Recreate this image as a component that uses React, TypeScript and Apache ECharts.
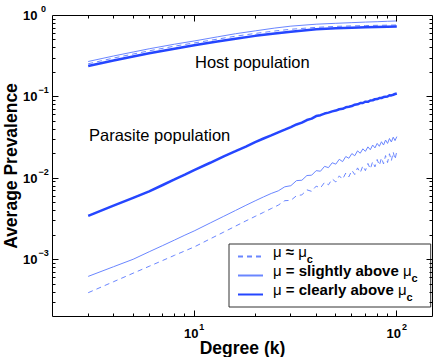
import React, { useEffect, useRef } from 'react';
import * as echarts from 'echarts';

// ---- Data ----
const N_CRIT = 'μ ≈ μc';
const N_SLIGHT = 'μ = slightly above μc';
const N_CLEAR = 'μ = clearly above μc';

const K = [3, 4, 5, 6, 7, 8, 9, 10, 12, 14, 16, 18, 20, 22, 24, 26, 28, 30,
  32, 34, 36, 38, 40, 42, 44, 46, 48, 50, 52, 54, 56, 58, 60, 62, 64, 66, 68, 70,
  72, 74, 76, 78, 80, 82, 84, 86, 88, 90, 92, 94, 96, 98, 100];

const PARASITE_CLEAR = [0.00345, 0.0046, 0.00575, 0.0069, 0.00826, 0.00966, 0.0111, 0.0126,
  0.0155, 0.0186, 0.0215, 0.0245, 0.0278, 0.0308, 0.0337, 0.0367, 0.0396, 0.0426,
  0.0458, 0.0482, 0.0519, 0.0541, 0.0581, 0.0596, 0.0624, 0.0641, 0.0663, 0.0679,
  0.0705, 0.0714, 0.0745, 0.0757, 0.0772, 0.0801, 0.0809, 0.0838, 0.0841, 0.0872,
  0.087, 0.0903, 0.0909, 0.0935, 0.094, 0.0968, 0.0969, 0.0995, 0.1003, 0.101,
  0.1046, 0.1041, 0.1062, 0.1085, 0.1102];

const PARASITE_SLIGHT = [0.000622, 0.000818, 0.00101, 0.00125, 0.00149, 0.00174, 0.002, 0.00225,
  0.00282, 0.00341, 0.00402, 0.00465, 0.00528, 0.0059, 0.0065, 0.007, 0.00785, 0.0081,
  0.00935, 0.00945, 0.0108, 0.0109, 0.0124, 0.0122, 0.014, 0.0135, 0.0155, 0.0149,
  0.0171, 0.016, 0.0185, 0.0176, 0.0201, 0.0189, 0.0217, 0.0203, 0.023, 0.0214,
  0.0243, 0.0224, 0.0256, 0.0236, 0.0268, 0.0247, 0.0281, 0.0256, 0.0295, 0.0268,
  0.0308, 0.0279, 0.032, 0.029, 0.0325];

const PARASITE_CRIT = [0.000392, 0.000535, 0.000681, 0.000828, 0.000977, 0.00113, 0.00128, 0.00143,
  0.0018, 0.00218, 0.00258, 0.00299, 0.0034, 0.00381, 0.00424, 0.00467, 0.0053, 0.00535,
  0.0061, 0.00625, 0.0072, 0.0069, 0.008, 0.0076, 0.0089, 0.0083, 0.0098, 0.009,
  0.0107, 0.0097, 0.0116, 0.0104, 0.0125, 0.0111, 0.0134, 0.0117, 0.0142, 0.0124,
  0.0152, 0.013, 0.016, 0.0138, 0.017, 0.0144, 0.0178, 0.015, 0.019, 0.0156,
  0.02, 0.0164, 0.021, 0.017, 0.0215];

const HOST_K = [3, 4, 5, 6, 8, 10, 13, 16, 20, 25, 30, 40, 50, 60, 70, 80, 90, 100];
const HOST_CLEAR = [0.239, 0.28, 0.313, 0.343, 0.39, 0.43, 0.48, 0.519, 0.562, 0.601, 0.63,
  0.678, 0.697, 0.708, 0.716, 0.723, 0.728, 0.731];
const HOST_SLIGHT = [0.272, 0.318, 0.356, 0.39, 0.444, 0.486, 0.546, 0.597, 0.647, 0.701, 0.74,
  0.782, 0.802, 0.817, 0.83, 0.839, 0.849, 0.857];
const HOST_CRIT = [0.255, 0.3, 0.336, 0.368, 0.42, 0.46, 0.512, 0.557, 0.602, 0.645, 0.677,
  0.715, 0.735, 0.745, 0.752, 0.757, 0.761, 0.765];

const X_MIN = 2;
const X_MAX = 150;
const Y_MIN = 0.0002;
const Y_MAX = 1;
const X_MAJOR = [10, 100];
const X_MINOR = [3, 4, 5, 6, 7, 8, 9, 20, 30, 40, 50, 60, 70, 80, 90];
const Y_MAJOR = [0.001, 0.01, 0.1];
const Y_MINOR = [0.0003, 0.0004, 0.0005, 0.0006, 0.0007, 0.0008, 0.0009,
  0.002, 0.003, 0.004, 0.005, 0.006, 0.007, 0.008, 0.009,
  0.02, 0.03, 0.04, 0.05, 0.06, 0.07, 0.08, 0.09,
  0.2, 0.3, 0.4, 0.5, 0.6, 0.7, 0.8, 0.9];

const FONT = 'Liberation Sans, Arial, Helvetica, sans-serif';
const C_CLEAR = '#2546ff';
const C_LIGHT = '#6a86ff';

function lineSeries(name: string, xs: number[], ys: number[], color: string, width: number, type: any) {
  return {
    type: 'line',
    name,
    data: xs.map((k, i) => [k, ys[i]]),
    symbol: 'none',
    showSymbol: false,
    silent: true,
    lineStyle: { color, width, type },
    itemStyle: { color },
    z: 3,
  };
}

const crisp = (v: number) => Math.floor(v) + 0.5;

function tickSeries(axis: 'x' | 'y', values: number[], len: number) {
  return {
    type: 'custom',
    silent: true,
    z: 5,
    clip: false,
    data: values.map((v) => (axis === 'x' ? [v, Y_MIN] : [X_MIN, v])),
    renderItem: (params: any, api: any) => {
      const v = api.value(axis === 'x' ? 0 : 1);
      const style = { stroke: '#000', lineWidth: 1 };
      if (axis === 'x') {
        const b = api.coord([v, Y_MIN]);
        const t = api.coord([v, Y_MAX]);
        const x = crisp(b[0]);
        return {
          type: 'group',
          children: [
            { type: 'line', shape: { x1: x, y1: b[1], x2: x, y2: b[1] - len }, style },
            { type: 'line', shape: { x1: x, y1: t[1], x2: x, y2: t[1] + len }, style },
          ],
        };
      }
      const l = api.coord([X_MIN, v]);
      const r = api.coord([X_MAX, v]);
      const y = crisp(l[1]);
      return {
        type: 'group',
        children: [
          { type: 'line', shape: { x1: l[0], y1: y, x2: l[0] + len, y2: y }, style },
          { type: 'line', shape: { x1: r[0], y1: y, x2: r[0] - len, y2: y }, style },
        ],
      };
    },
  };
}

function expOf(v: number): number | null {
  const e = Math.log10(v);
  if (Math.abs(e - Math.round(e)) > 1e-6) return null;
  return Math.round(e);
}

export default function App() {
  const ref = useRef<HTMLDivElement>(null);
  useEffect(() => {
    if (!ref.current) return;
    const chart = echarts.init(ref.current, null, { renderer: 'svg' });
    const labelRichX = {
      b: { fontSize: 13, fontWeight: 'bold', fontFamily: FONT, color: '#000', lineHeight: 17 },
      s: { fontSize: 9, fontWeight: 'bold', fontFamily: FONT, color: '#000', lineHeight: 17, padding: [0, 0, 13, 1] },
    };
    const labelRichY = {
      b: { fontSize: 13, fontWeight: 'bold', fontFamily: FONT, color: '#000', lineHeight: 17 },
      s: { fontSize: 9, fontWeight: 'bold', fontFamily: FONT, color: '#000', lineHeight: 17, padding: [0, 0, 13, 1], width: 10, align: 'left' },
    };
    const nameStyle = { fontSize: 17.5, fontWeight: 'bold', fontFamily: FONT, color: '#000' };
    const option: any = {
      animation: false,
      grid: {
        left: 52.5, right: 3.5, top: 15.5, bottom: 40.5,
        outerBoundsMode: 'none',
        containLabel: false,
        show: true, borderColor: '#000', borderWidth: 1, backgroundColor: 'transparent',
      },
      xAxis: {
        type: 'log', logBase: 10, min: X_MIN, max: X_MAX,
        axisLine: { show: false }, axisTick: { show: false }, splitLine: { show: false },
        axisLabel: {
          margin: 8,
          formatter: (v: number) => {
            const e = expOf(v);
            return e === null ? '' : `{b|10}{s|${e}}`;
          },
          rich: labelRichX,
        },
        name: 'Degree (k)', nameLocation: 'middle', nameGap: 22, nameMoveOverlap: false,
        nameTextStyle: nameStyle,
      },
      yAxis: {
        type: 'log', logBase: 10, min: Y_MIN, max: Y_MAX,
        axisLine: { show: false }, axisTick: { show: false }, splitLine: { show: false },
        axisLabel: {
          margin: 4,
          formatter: (v: number) => {
            const e = expOf(v);
            if (e === null) return '';
            const s = e < 0 ? '\u2212' + Math.abs(e) : String(e);
            return `{b|10}{s|${s}}`;
          },
          rich: labelRichY,
        },
        name: 'Average Prevalence', nameLocation: 'middle', nameGap: 33, nameMoveOverlap: false,
        nameTextStyle: nameStyle,
      },
      legend: {
        data: [N_CRIT, N_SLIGHT, N_CLEAR],
        orient: 'vertical',
        left: 229, top: 244,
        itemWidth: 25, itemHeight: 14, itemGap: -6,
        padding: [0, 13, 0, 8],
        borderColor: '#333', borderWidth: 1, backgroundColor: '#fff',
        selectedMode: false,
        itemStyle: { opacity: 0 },
        formatter: (name: string) => {
          const mid = name.slice(1, -2);
          return `{g0|μ}{m|${mid}}{g|μ}{c|c}`;
        },
        textStyle: {
          color: '#000',
          rich: {
            g0: { fontSize: 15, fontFamily: FONT, color: '#000', lineHeight: 17, padding: [0, 0, 10, 5] },
            g: { fontSize: 15, fontFamily: FONT, color: '#000', lineHeight: 17, padding: [0, 0, 10, 0] },
            m: { fontSize: 15, fontWeight: 'bold', fontFamily: FONT, color: '#000', lineHeight: 17, padding: [0, 0, 10, 0] },
            c: { fontSize: 11, fontWeight: 'bold', fontFamily: FONT, color: '#000', lineHeight: 17, padding: [4, 0, 0, 0] },
          },
        },
      },
      graphic: [
        { type: 'text', x: 195, y: 62, style: { text: 'Host population', fontSize: 16.5, fontFamily: FONT, fill: '#000', verticalAlign: 'middle', align: 'left' } },
        { type: 'text', x: 89, y: 135, style: { text: 'Parasite population', fontSize: 16.5, fontFamily: FONT, fill: '#000', verticalAlign: 'middle', align: 'left' } },
      ],
      series: [
        lineSeries(N_CRIT, K, PARASITE_CRIT, C_LIGHT, 1, [5, 4]),
        lineSeries(N_SLIGHT, K, PARASITE_SLIGHT, C_LIGHT, 1, 'solid'),
        lineSeries(N_CLEAR, K, PARASITE_CLEAR, C_CLEAR, 2.5, 'solid'),
        lineSeries(N_CRIT, HOST_K, HOST_CRIT, C_LIGHT, 1, [5, 4]),
        lineSeries(N_SLIGHT, HOST_K, HOST_SLIGHT, C_LIGHT, 1, 'solid'),
        lineSeries(N_CLEAR, HOST_K, HOST_CLEAR, C_CLEAR, 2.5, 'solid'),
        tickSeries('x', X_MAJOR, 6),
        tickSeries('x', X_MINOR, 3),
        tickSeries('y', Y_MAJOR, 6),
        tickSeries('y', Y_MINOR, 3),
      ],
    };
    chart.setOption(option);
    return () => chart.dispose();
  }, []);
  return (
    <div
      ref={ref}
      style={{ position: 'absolute', left: 0, top: 0, width: 436, height: 357, background: '#fff' }}
    />
  );
}
